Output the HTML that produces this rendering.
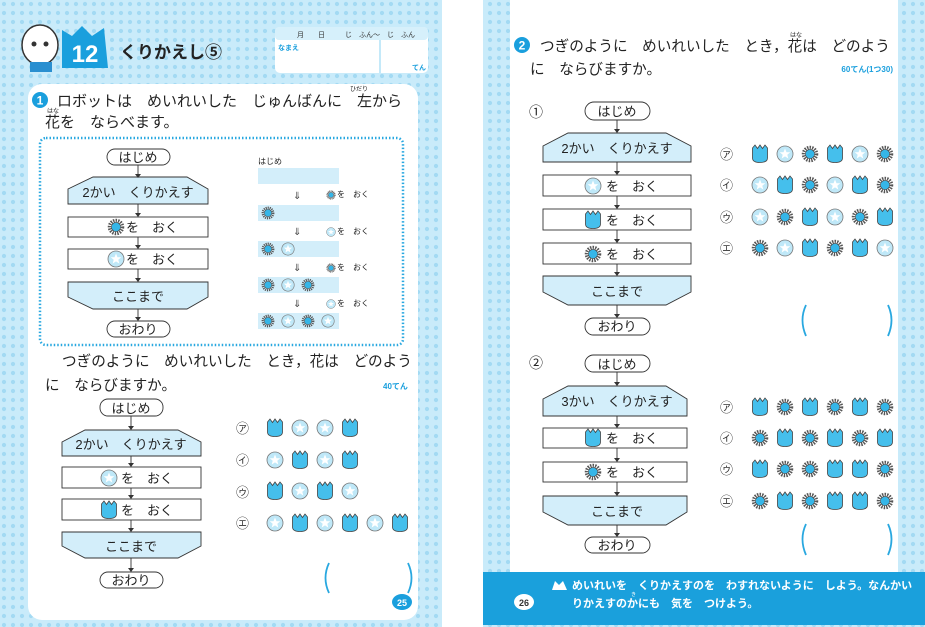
<!DOCTYPE html>
<html><head><meta charset="utf-8"><style>
html,body{margin:0;padding:0;background:#fff;}
svg{display:block;font-family:"Liberation Sans","Noto Sans CJK JP",sans-serif;}
</style></head><body>
<svg width="925" height="627" viewBox="0 0 925 627" xmlns="http://www.w3.org/2000/svg">
<defs>
<pattern id="dots" width="9" height="9" patternUnits="userSpaceOnUse">
<rect width="9" height="9" fill="#c9ebfa"/><circle cx="4" cy="4" r="2.1" fill="#a3daf3"/>
</pattern>
<symbol id="t" viewBox="-9 -9 18 18" overflow="visible"><path d="M-7.5,-6 L-5,-9 L-2.5,-5.5 L0,-9 L2.5,-5.5 L5,-9 L7.5,-6 L7.5,4 Q7.5,8.5 0,8.5 Q-7.5,8.5 -7.5,4 Z" fill="#45bfec" stroke="#444" stroke-width="0.8"/></symbol>
<symbol id="s" viewBox="-9 -9 18 18" overflow="visible"><circle r="8" fill="#bfe8f8" stroke="#777" stroke-width="0.8"/><polygon points="0,-5.5 1.5,-1.8 5.3,-1.7 2.3,0.8 3.3,4.5 0,2.4 -3.3,4.5 -2.3,0.8 -5.3,-1.7 -1.5,-1.8" fill="#fff"/></symbol>
<symbol id="g" viewBox="-9 -9 18 18" overflow="visible"><circle r="6.5" fill="none" stroke="#555" stroke-width="3.5" stroke-dasharray="1.4 1.1"/><circle r="4.6" fill="#35b6e8" stroke="#444" stroke-width="0.6"/></symbol>
</defs>

<rect x="0" y="0" width="442" height="627" fill="url(#dots)"/>
<rect x="483" y="0" width="442" height="627" fill="url(#dots)"/>
<rect x="28" y="84" width="390" height="536" rx="14" fill="#fff"/>
<rect x="510" y="0" width="388" height="572" fill="#fff"/>
<rect x="483" y="572" width="442" height="53" fill="#1aa0dc"/>

<ellipse cx="40" cy="45" rx="18" ry="20" fill="#fff" stroke="#333" stroke-width="1.5"/>
<circle cx="34" cy="44" r="2.5" fill="#333"/><circle cx="46" cy="44" r="2.5" fill="#333"/>
<rect x="30" y="62" width="22" height="10" fill="#2a8fd0"/>
<path d="M62,30 L72,36 L82,26 L92,36 L104,28 L108,68 L62,68 Z" fill="#1a9fdd"/>
<text x="85" y="62" font-size="24" font-weight="bold" fill="#fff" text-anchor="middle">12</text>
<text x="120" y="58" font-size="17" font-weight="bold" fill="#222">くりかえし⑤</text>
<rect x="275" y="27" width="153" height="46" rx="5" fill="#fff"/>
<rect x="275" y="27" width="153" height="13" rx="4" fill="#d6f0fb"/>
<text x="297" y="37" font-size="7" fill="#333">月　　日</text>
<text x="345" y="37" font-size="7" fill="#333">じ　ふん〜　じ　ふん</text>
<line x1="380" y1="40" x2="380" y2="73" stroke="#c4e9f9" stroke-width="2"/>
<text x="278" y="50" font-size="7" fill="#1a9fdd" font-weight="bold">なまえ</text>
<text x="412" y="70" font-size="7" fill="#1a9fdd" font-weight="bold">てん</text>

<circle cx="40" cy="100" r="8" fill="#1a9fdd"/><text x="40" y="104.5" font-size="12" font-weight="bold" fill="#fff" text-anchor="middle">1</text>
<text x="57" y="106" font-size="15" fill="#222">ロボットは　めいれいした　じゅんばんに　左から</text>
<text x="350" y="91" font-size="6" fill="#222">ひだり</text>
<text x="45" y="127" font-size="15" fill="#222">花を　ならべます。</text>
<text x="47" y="113" font-size="6" fill="#222">はな</text>
<rect x="40" y="138" width="363" height="207" rx="6" fill="none" stroke="#29a8e0" stroke-width="2.5" stroke-dasharray="1.5 2"/>

<g stroke="#333" stroke-width="0.9" font-size="13" fill="#222">
<rect x="107" y="149" width="63" height="16" rx="8" fill="#fff"/>
<line x1="138" y1="165" x2="138" y2="177"/>
<polygon points="93,177 187,177 208,189 208,204 68,204 68,189" fill="#d3eefa"/>
<line x1="138" y1="204" x2="138" y2="217"/>
<rect x="68" y="217" width="140" height="20" fill="#fff"/>
<line x1="138" y1="237" x2="138" y2="249"/>
<rect x="68" y="249" width="140" height="20" fill="#fff"/>
<line x1="138" y1="269" x2="138" y2="282"/>
<polygon points="68,282 208,282 208,297 187,309 93,309 68,297" fill="#d3eefa"/>
<line x1="138" y1="309" x2="138" y2="321"/>
<rect x="107" y="321" width="63" height="16" rx="8" fill="#fff"/>
<rect x="100" y="399" width="63" height="17" rx="8" fill="#fff"/>
<line x1="131" y1="416" x2="131" y2="430"/>
<polygon points="85,430 178,430 201,442 201,456 62,456 62,442" fill="#d3eefa"/>
<line x1="131" y1="456" x2="131" y2="467"/>
<rect x="62" y="467" width="139" height="21" fill="#fff"/>
<line x1="131" y1="488" x2="131" y2="499"/>
<rect x="62" y="499" width="139" height="21" fill="#fff"/>
<line x1="131" y1="520" x2="131" y2="532"/>
<polygon points="62,532 201,532 201,546 178,558 85,558 62,546" fill="#d3eefa"/>
<line x1="131" y1="558" x2="131" y2="572"/>
<rect x="100" y="572" width="63" height="16" rx="8" fill="#fff"/>
<rect x="585" y="102" width="65" height="18" rx="9" fill="#fff"/>
<line x1="617" y1="120" x2="617" y2="133"/>
<polygon points="568,133 666,133 691,146 691,162 543,162 543,146" fill="#d3eefa"/>
<line x1="617" y1="162" x2="617" y2="175"/>
<rect x="543" y="175" width="148" height="21" fill="#fff"/>
<line x1="617" y1="196" x2="617" y2="209"/>
<rect x="543" y="209" width="148" height="21" fill="#fff"/>
<line x1="617" y1="230" x2="617" y2="243"/>
<rect x="543" y="243" width="148" height="21" fill="#fff"/>
<line x1="617" y1="264" x2="617" y2="276"/>
<polygon points="543,276 691,276 691,292 666,305 568,305 543,292" fill="#d3eefa"/>
<line x1="617" y1="305" x2="617" y2="318"/>
<rect x="585" y="318" width="65" height="17" rx="8.5" fill="#fff"/>
<rect x="585" y="355" width="65" height="17" rx="8.5" fill="#fff"/>
<line x1="617" y1="372" x2="617" y2="386"/>
<polygon points="568,386 666,386 687,399 687,416 543,416 543,399" fill="#d3eefa"/>
<line x1="617" y1="416" x2="617" y2="428"/>
<rect x="543" y="428" width="144" height="20" fill="#fff"/>
<line x1="617" y1="448" x2="617" y2="462"/>
<rect x="543" y="462" width="144" height="20" fill="#fff"/>
<line x1="617" y1="482" x2="617" y2="496"/>
<polygon points="543,496 687,496 687,512 666,525 568,525 543,512" fill="#d3eefa"/>
<line x1="617" y1="525" x2="617" y2="537"/>
<rect x="585" y="537" width="65" height="16" rx="8" fill="#fff"/>
</g>
<g fill="#333">
<path d="M135,174 L141,174 L138,178Z"/><path d="M135,213 L141,213 L138,217Z"/><path d="M135,245 L141,245 L138,249Z"/><path d="M135,278 L141,278 L138,282Z"/><path d="M135,317 L141,317 L138,321Z"/>
<path d="M128,426 L134,426 L131,430Z"/><path d="M128,463 L134,463 L131,467Z"/><path d="M128,495 L134,495 L131,499Z"/><path d="M128,528 L134,528 L131,532Z"/><path d="M128,568 L134,568 L131,572Z"/>
<path d="M614,129 L620,129 L617,133Z"/><path d="M614,171 L620,171 L617,175Z"/><path d="M614,205 L620,205 L617,209Z"/><path d="M614,239 L620,239 L617,243Z"/><path d="M614,272 L620,272 L617,276Z"/><path d="M614,314 L620,314 L617,318Z"/>
<path d="M614,382 L620,382 L617,386Z"/><path d="M614,424 L620,424 L617,428Z"/><path d="M614,458 L620,458 L617,462Z"/><path d="M614,492 L620,492 L617,496Z"/><path d="M614,533 L620,533 L617,537Z"/>
</g>

<g font-size="13" fill="#222" text-anchor="middle">
<text x="138" y="162">はじめ</text><text x="138" y="197">2かい　くりかえす</text>
<text x="152" y="232">を　おく</text><text x="152" y="264">を　おく</text>
<text x="138" y="301">ここまで</text><text x="138" y="334">おわり</text>
<text x="131" y="413">はじめ</text><text x="131" y="449">2かい　くりかえす</text>
<text x="147" y="483">を　おく</text><text x="147" y="515">を　おく</text>
<text x="131" y="551">ここまで</text><text x="131" y="585">おわり</text>
<text x="617" y="116">はじめ</text><text x="617" y="153">2かい　くりかえす</text>
<text x="632" y="191">を　おく</text><text x="632" y="225">を　おく</text><text x="632" y="259">を　おく</text>
<text x="617" y="296">ここまで</text><text x="617" y="331">おわり</text>
<text x="617" y="369">はじめ</text><text x="617" y="406">3かい　くりかえす</text>
<text x="632" y="443">を　おく</text><text x="632" y="477">を　おく</text>
<text x="617" y="516">ここまで</text><text x="617" y="550">おわり</text>
</g>
<use href="#g" x="107" y="218" width="18" height="18"/>
<use href="#s" x="107" y="250" width="18" height="18"/>
<use href="#s" x="100" y="469" width="18" height="18"/>
<use href="#t" x="100" y="501" width="18" height="18"/>
<use href="#s" x="584" y="177" width="18" height="18"/>
<use href="#t" x="584" y="211" width="18" height="18"/>
<use href="#g" x="584" y="245" width="18" height="18"/>
<use href="#t" x="584" y="429" width="18" height="18"/>
<use href="#g" x="584" y="463" width="18" height="18"/>

<text x="258" y="164" font-size="8" fill="#222">はじめ</text>
<g fill="#d3eefa"><rect x="258" y="168" width="81" height="16"/><rect x="258" y="205" width="81" height="16"/><rect x="258" y="241" width="81" height="16"/><rect x="258" y="277" width="81" height="16"/><rect x="258" y="313" width="81" height="16"/></g>
<g font-size="10" fill="#444"><text x="293" y="199">⇓</text><text x="293" y="235">⇓</text><text x="293" y="271">⇓</text><text x="293" y="307">⇓</text></g>
<g font-size="8" fill="#222"><text x="337" y="197">を　おく</text><text x="337" y="234">を　おく</text><text x="337" y="270">を　おく</text><text x="337" y="306">を　おく</text></g>
<use href="#g" x="326" y="190" width="10" height="10"/><use href="#s" x="326" y="227" width="10" height="10"/><use href="#g" x="326" y="263" width="10" height="10"/><use href="#s" x="326" y="299" width="10" height="10"/>
<use href="#g" x="261" y="206" width="14" height="14"/>
<use href="#g" x="261" y="242" width="14" height="14"/><use href="#s" x="281" y="242" width="14" height="14"/>
<use href="#g" x="261" y="278" width="14" height="14"/><use href="#s" x="281" y="278" width="14" height="14"/><use href="#g" x="301" y="278" width="14" height="14"/>
<use href="#g" x="261" y="314" width="14" height="14"/><use href="#s" x="281" y="314" width="14" height="14"/><use href="#g" x="301" y="314" width="14" height="14"/><use href="#s" x="321" y="314" width="14" height="14"/>

<text x="62" y="366" font-size="14.6" fill="#222">つぎのように　めいれいした　とき，花は　どのよう</text>
<text x="45" y="390" font-size="14.6" fill="#222">に　ならびますか。</text>
<text x="383" y="389" font-size="8" font-weight="bold" fill="#1a9fdd">40てん</text>
<g font-size="13" fill="#333"><text x="236" y="433">㋐</text><text x="236" y="465">㋑</text><text x="236" y="497">㋒</text><text x="236" y="528">㋓</text></g>
<use href="#t" x="266" y="419" width="18" height="18"/><use href="#s" x="291" y="419" width="18" height="18"/><use href="#s" x="316" y="419" width="18" height="18"/><use href="#t" x="341" y="419" width="18" height="18"/>
<use href="#s" x="266" y="451" width="18" height="18"/><use href="#t" x="291" y="451" width="18" height="18"/><use href="#s" x="316" y="451" width="18" height="18"/><use href="#t" x="341" y="451" width="18" height="18"/>
<use href="#t" x="266" y="482" width="18" height="18"/><use href="#s" x="291" y="482" width="18" height="18"/><use href="#t" x="316" y="482" width="18" height="18"/><use href="#s" x="341" y="482" width="18" height="18"/>
<use href="#s" x="266" y="514" width="18" height="18"/><use href="#t" x="291" y="514" width="18" height="18"/><use href="#s" x="316" y="514" width="18" height="18"/><use href="#t" x="341" y="514" width="18" height="18"/><use href="#s" x="366" y="514" width="18" height="18"/><use href="#t" x="391" y="514" width="18" height="18"/>
<g fill="none" stroke="#29a8e0" stroke-width="1.8"><path d="M329,563 Q322,578 329,593"/><path d="M408,563 Q415,578 408,593"/><path d="M806,305 Q799,320 806,336"/><path d="M888,305 Q895,320 888,336"/><path d="M806,524 Q799,539 806,555"/><path d="M888,524 Q895,539 888,555"/></g>
<ellipse cx="402" cy="602" rx="10" ry="8" fill="#1a9fdd"/><text x="402" y="606" font-size="9" font-weight="bold" fill="#fff" text-anchor="middle">25</text>

<circle cx="522" cy="45" r="8" fill="#1a9fdd"/><text x="522" y="49.5" font-size="12" font-weight="bold" fill="#fff" text-anchor="middle">2</text>
<text x="540" y="51" font-size="14.6" fill="#222">つぎのように　めいれいした　とき，花は　どのよう</text>
<text x="790" y="37" font-size="6" fill="#222">はな</text>
<text x="530" y="74" font-size="14.6" fill="#222">に　ならびますか。</text>
<text x="893" y="72" font-size="8" font-weight="bold" fill="#1a9fdd" text-anchor="end">60てん(1つ30)</text>
<text x="529" y="117" font-size="14" fill="#222">①</text>
<text x="529" y="368" font-size="14" fill="#222">②</text>
<g font-size="13" fill="#333"><text x="720" y="159">㋐</text><text x="720" y="190">㋑</text><text x="720" y="222">㋒</text><text x="720" y="253">㋓</text>
<text x="720" y="412">㋐</text><text x="720" y="443">㋑</text><text x="720" y="474">㋒</text><text x="720" y="506">㋓</text></g>
<use href="#t" x="751" y="145" width="18" height="18"/><use href="#s" x="776" y="145" width="18" height="18"/><use href="#g" x="801" y="145" width="18" height="18"/><use href="#t" x="826" y="145" width="18" height="18"/><use href="#s" x="851" y="145" width="18" height="18"/><use href="#g" x="876" y="145" width="18" height="18"/>
<use href="#s" x="751" y="176" width="18" height="18"/><use href="#t" x="776" y="176" width="18" height="18"/><use href="#g" x="801" y="176" width="18" height="18"/><use href="#s" x="826" y="176" width="18" height="18"/><use href="#t" x="851" y="176" width="18" height="18"/><use href="#g" x="876" y="176" width="18" height="18"/>
<use href="#s" x="751" y="208" width="18" height="18"/><use href="#g" x="776" y="208" width="18" height="18"/><use href="#t" x="801" y="208" width="18" height="18"/><use href="#s" x="826" y="208" width="18" height="18"/><use href="#g" x="851" y="208" width="18" height="18"/><use href="#t" x="876" y="208" width="18" height="18"/>
<use href="#g" x="751" y="239" width="18" height="18"/><use href="#s" x="776" y="239" width="18" height="18"/><use href="#t" x="801" y="239" width="18" height="18"/><use href="#g" x="826" y="239" width="18" height="18"/><use href="#t" x="851" y="239" width="18" height="18"/><use href="#s" x="876" y="239" width="18" height="18"/>
<use href="#t" x="751" y="398" width="18" height="18"/><use href="#g" x="776" y="398" width="18" height="18"/><use href="#t" x="801" y="398" width="18" height="18"/><use href="#g" x="826" y="398" width="18" height="18"/><use href="#t" x="851" y="398" width="18" height="18"/><use href="#g" x="876" y="398" width="18" height="18"/>
<use href="#g" x="751" y="429" width="18" height="18"/><use href="#t" x="776" y="429" width="18" height="18"/><use href="#g" x="801" y="429" width="18" height="18"/><use href="#t" x="826" y="429" width="18" height="18"/><use href="#g" x="851" y="429" width="18" height="18"/><use href="#t" x="876" y="429" width="18" height="18"/>
<use href="#t" x="751" y="460" width="18" height="18"/><use href="#g" x="776" y="460" width="18" height="18"/><use href="#g" x="801" y="460" width="18" height="18"/><use href="#t" x="826" y="460" width="18" height="18"/><use href="#t" x="851" y="460" width="18" height="18"/><use href="#g" x="876" y="460" width="18" height="18"/>
<use href="#g" x="751" y="492" width="18" height="18"/><use href="#t" x="776" y="492" width="18" height="18"/><use href="#g" x="801" y="492" width="18" height="18"/><use href="#t" x="826" y="492" width="18" height="18"/><use href="#t" x="851" y="492" width="18" height="18"/><use href="#g" x="876" y="492" width="18" height="18"/>

<ellipse cx="524" cy="602" rx="10" ry="8" fill="#fff"/><text x="524" y="606" font-size="9" font-weight="bold" fill="#333" text-anchor="middle">26</text>
<path d="M552,590 L555,581 L559,585 L563,581 L567,590 Z" fill="#fff"/>
<text x="572" y="589" font-size="11" font-weight="bold" fill="#fff">めいれいを　くりかえすのを　わすれないように　しよう。なんかい　く</text>
<text x="572" y="607" font-size="11" font-weight="bold" fill="#fff">りかえすのかにも　気を　つけよう。</text>
<text x="631" y="596" font-size="5" fill="#fff">き</text>
</svg>
</body></html>
